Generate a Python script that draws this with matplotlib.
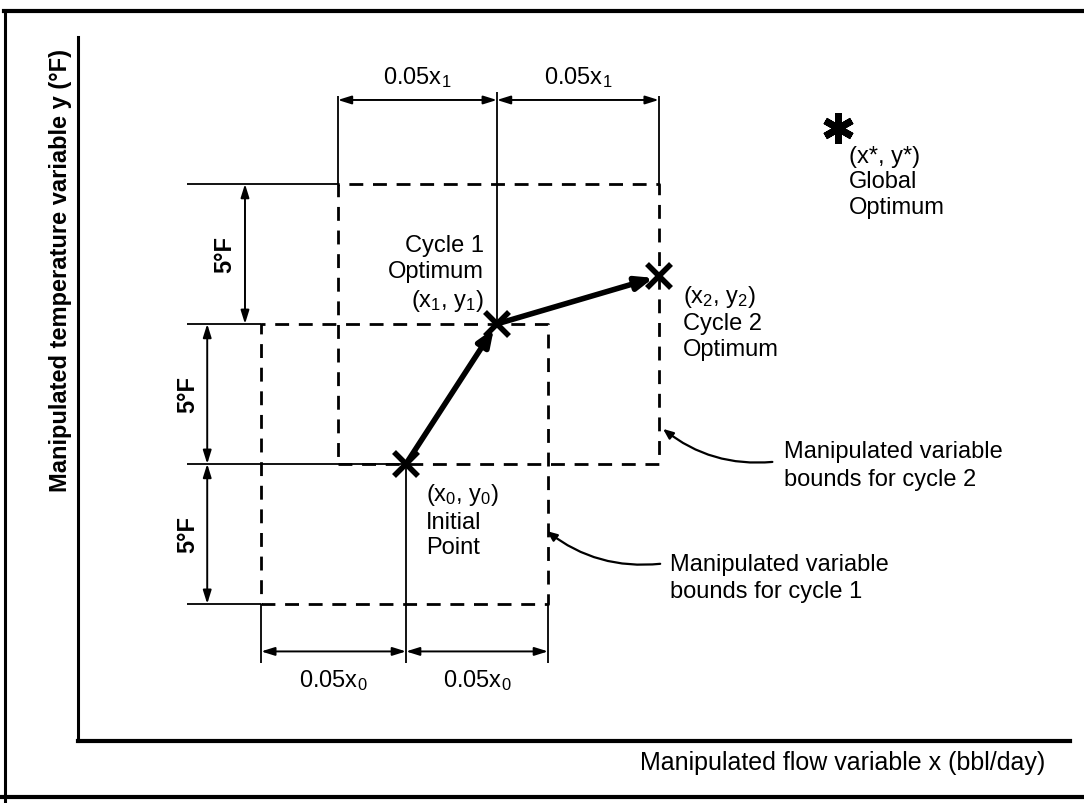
import matplotlib
matplotlib.use('Agg')
import matplotlib.pyplot as plt
from matplotlib.lines import Line2D

plt.rcParams['font.family'] = ['Liberation Sans', 'DejaVu Sans']
plt.rcParams['mathtext.default'] = 'regular'

# search path: initial point, cycle 1 optimum, cycle 2 optimum (flow, temperature)
flow_pts = [100.0, 103.2, 108.9]
temp_pts = [200.0, 205.0, 206.7]
global_flow = 115.2
global_temp = 212.0

# manipulated variable bounds for each cycle
cycle1_flow = [94.9, 105.0]
cycle1_temp = [195.0, 205.0]
cycle2_flow = [97.6, 108.9]
cycle2_temp = [200.0, 210.0]

dim_labels_top = ['0.05x$_1$', '0.05x$_1$']
dim_labels_bottom = ['0.05x$_0$', '0.05x$_0$']
step_label = '5°F'

FS = 17
BLACK = 'black'


def dim_arrow(ax, p1, p2):
    ax.annotate('', xy=p2, xytext=p1,
                arrowprops=dict(arrowstyle='<|-|>,head_length=0.8,head_width=0.25',
                                lw=1.4, color=BLACK, shrinkA=0, shrinkB=0))


def solid(ax, xs, ys):
    ax.plot(xs, ys, color=BLACK, lw=1.3, solid_capstyle='butt')


def dashed_box(ax, fx, ty):
    xs = [fx[0], fx[1], fx[1], fx[0], fx[0]]
    ys = [ty[0], ty[0], ty[1], ty[1], ty[0]]
    ax.plot(xs, ys, color=BLACK, lw=2.0, dashes=(5, 3.5))


fig = plt.figure(figsize=(10.84, 8.04), dpi=100)
ax = fig.add_axes([78 / 1084, 62 / 804, 992 / 1084, 704 / 804])
ax.set_xlim(88.45, 123.38)
ax.set_ylim(190.1, 215.25)
ax.set_xticks([])
ax.set_yticks([])
for s in ['top', 'right']:
    ax.spines[s].set_visible(False)
ax.spines['left'].set_linewidth(2.2)
ax.spines['bottom'].set_linewidth(3.0)
ax.patch.set_alpha(0)

# outer frame of the figure
fig.add_artist(Line2D([0.004, 1.0], [0.985, 0.985], transform=fig.transFigure, color=BLACK, lw=3))
fig.add_artist(Line2D([0.005, 0.005], [0.0, 0.985], transform=fig.transFigure, color=BLACK, lw=2.2))
fig.add_artist(Line2D([0.0, 1.0], [0.008, 0.008], transform=fig.transFigure, color=BLACK, lw=3))

# bounds boxes
dashed_box(ax, cycle1_flow, cycle1_temp)
dashed_box(ax, cycle2_flow, cycle2_temp)

x0, x1, x2 = flow_pts
y0, y1, y2 = temp_pts
left_ext = 92.3

# extension lines
solid(ax, [left_ext, cycle2_flow[0]], [cycle2_temp[1]] * 2)
solid(ax, [left_ext, cycle1_flow[0]], [y1, y1])
solid(ax, [left_ext, x0], [y0, y0])
solid(ax, [left_ext, cycle1_flow[0]], [cycle1_temp[0]] * 2)
top_dim = 213.0
solid(ax, [cycle2_flow[0]] * 2, [cycle2_temp[1], top_dim + 0.15])
solid(ax, [x1, x1], [y1, top_dim + 0.3])
solid(ax, [cycle2_flow[1]] * 2, [cycle2_temp[1], top_dim + 0.15])
bot_dim = 193.3
for fx in [cycle1_flow[0], x0, cycle1_flow[1]]:
    start = y0 if fx == x0 else cycle1_temp[0]
    solid(ax, [fx, fx], [start, bot_dim - 0.4])

# dimension arrows
dim_arrow(ax, (cycle2_flow[0], top_dim), (x1, top_dim))
dim_arrow(ax, (x1, top_dim), (cycle2_flow[1], top_dim))
dim_arrow(ax, (cycle1_flow[0], bot_dim), (x0, bot_dim))
dim_arrow(ax, (x0, bot_dim), (cycle1_flow[1], bot_dim))
dim_arrow(ax, (94.33, y1), (94.33, cycle2_temp[1]))
dim_arrow(ax, (93.0, y0), (93.0, y1))
dim_arrow(ax, (93.0, cycle1_temp[0]), (93.0, y0))

ax.text((cycle2_flow[0] + x1) / 2, 213.85, dim_labels_top[0], ha='center', va='center', fontsize=FS)
ax.text((x1 + cycle2_flow[1]) / 2, 213.85, dim_labels_top[1], ha='center', va='center', fontsize=FS)
ax.text((cycle1_flow[0] + x0) / 2, 192.3, dim_labels_bottom[0], ha='center', va='center', fontsize=FS)
ax.text((x0 + cycle1_flow[1]) / 2, 192.3, dim_labels_bottom[1], ha='center', va='center', fontsize=FS)
ax.text(93.63, 207.5, step_label, rotation=90, ha='center', va='center', fontsize=FS, weight='bold')
ax.text(92.32, 202.5, step_label, rotation=90, ha='center', va='center', fontsize=FS, weight='bold')
ax.text(92.32, 197.5, step_label, rotation=90, ha='center', va='center', fontsize=FS, weight='bold')

# search path
for i in range(len(flow_pts) - 1):
    ax.annotate('', xy=(flow_pts[i + 1], temp_pts[i + 1]), xytext=(flow_pts[i], temp_pts[i]),
                arrowprops=dict(arrowstyle='-|>,head_length=1.0,head_width=0.4',
                                lw=4, color=BLACK, shrinkA=0, shrinkB=4))
ax.plot(flow_pts, temp_pts, ls='none', marker='x', ms=17, mew=4, color=BLACK)
ax.plot([global_flow], [global_temp], ls='none', marker=(6, 2, 0), ms=22, mew=5, color=BLACK)

ax.text(102.75, 206.8, 'Cycle 1\nOptimum\n(x$_1$, y$_1$)', ha='right', va='center',
        fontsize=FS, linespacing=1.25, multialignment='right')
ax.text(109.75, 205.1, '(x$_2$, y$_2$)\nCycle 2\nOptimum', ha='left', va='center',
        fontsize=FS, linespacing=1.2)
ax.text(100.7, 198.0, '(x$_0$, y$_0$)\nInitial\nPoint', ha='left', va='center',
        fontsize=FS, linespacing=1.2)
ax.text(115.6, 210.1, '(x*, y*)\nGlobal\nOptimum', ha='left', va='center',
        fontsize=FS, linespacing=1.2)

# annotations for the bounds
ax.annotate('', xy=(109.05, 201.25), xytext=(112.9, 200.07),
            arrowprops=dict(arrowstyle='-|>,head_length=0.6,head_width=0.25', lw=1.6,
                            color=BLACK, shrinkA=0, shrinkB=0, connectionstyle='arc3,rad=-0.2'))
ax.text(113.3, 199.95, 'Manipulated variable\nbounds for cycle 2', ha='left', va='center',
        fontsize=FS, linespacing=1.35)
ax.annotate('', xy=(104.96, 197.6), xytext=(108.95, 196.43),
            arrowprops=dict(arrowstyle='-|>,head_length=0.6,head_width=0.25', lw=1.6,
                            color=BLACK, shrinkA=0, shrinkB=0, connectionstyle='arc3,rad=-0.2'))
ax.text(109.3, 195.95, 'Manipulated variable\nbounds for cycle 1', ha='left', va='center',
        fontsize=FS, linespacing=1.3)

# axis labels
ax.text(-17 / 992, 0.985, 'Manipulated temperature variable y (°F)', rotation=90,
        ha='center', va='top', fontsize=FS, weight='bold', transform=ax.transAxes)
ax.text(0.975, -0.03, 'Manipulated flow variable x (bbl/day)', ha='right', va='center',
        fontsize=18, transform=ax.transAxes)

fig.savefig('out.png', dpi=100)
